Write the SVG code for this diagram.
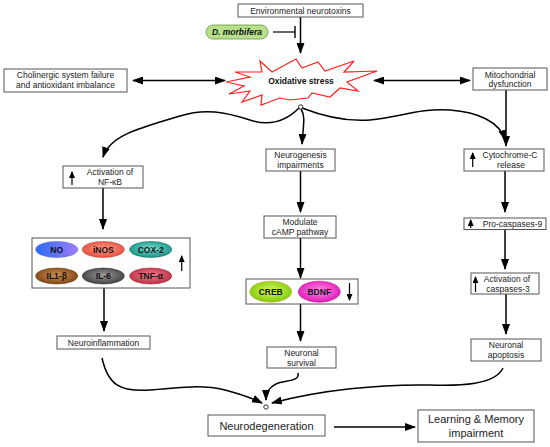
<svg xmlns="http://www.w3.org/2000/svg" width="550" height="447" viewBox="0 0 550 447">
<defs>
<style>
.box{fill:#fff;stroke:#555;stroke-width:1}
.t{font-family:"Liberation Sans",Arial,sans-serif;font-size:8.5px;fill:#222;text-anchor:middle}
.tl{font-family:"Liberation Sans",Arial,sans-serif;font-size:11px;fill:#222;text-anchor:middle}
.b{font-family:"Liberation Sans",Arial,sans-serif;font-size:8.5px;font-weight:bold;fill:#111;text-anchor:middle}
.c{fill:none;stroke:#000;stroke-width:1.5}
.ar{marker-end:url(#ah)}
.up{stroke:#000;stroke-width:1.2;fill:none}
.el{stroke-width:0.6}
</style>
<marker id="ah" markerUnits="userSpaceOnUse" markerWidth="11" markerHeight="8" refX="10" refY="4" orient="auto-start-reverse">
<path d="M0,0 L11,4 L0,8 Z" fill="#000"/>
</marker>
<marker id="sa" markerUnits="userSpaceOnUse" markerWidth="7" markerHeight="6" refX="6" refY="3" orient="auto">
<path d="M0,0 L7,3 L0,6 Z" fill="#000"/>
</marker>
<linearGradient id="gNO" x1="0" x2="1" y1="0" y2="0"><stop offset="0" stop-color="#2a6cf2"/><stop offset="1" stop-color="#a07cff"/></linearGradient>
<radialGradient id="gINOS" cx="0.5" cy="0.45" r="0.6"><stop offset="0" stop-color="#ff9a88"/><stop offset="1" stop-color="#e24a3a"/></radialGradient>
<radialGradient id="gCOX" cx="0.5" cy="0.45" r="0.6"><stop offset="0" stop-color="#7ae0d2"/><stop offset="1" stop-color="#0f8d80"/></radialGradient>
<radialGradient id="gIL1" cx="0.5" cy="0.45" r="0.6"><stop offset="0" stop-color="#d09050"/><stop offset="1" stop-color="#7a4212"/></radialGradient>
<radialGradient id="gIL6" cx="0.5" cy="0.45" r="0.6"><stop offset="0" stop-color="#9a9a9a"/><stop offset="1" stop-color="#3a3a3a"/></radialGradient>
<radialGradient id="gTNF" cx="0.5" cy="0.45" r="0.6"><stop offset="0" stop-color="#f08090"/><stop offset="1" stop-color="#b82a3c"/></radialGradient>
<radialGradient id="gCREB" cx="0.5" cy="0.45" r="0.6"><stop offset="0" stop-color="#d8f860"/><stop offset="1" stop-color="#78c800"/></radialGradient>
<radialGradient id="gBDNF" cx="0.5" cy="0.45" r="0.6"><stop offset="0" stop-color="#ff8ae8"/><stop offset="1" stop-color="#e010b4"/></radialGradient>
</defs>
<rect width="550" height="447" fill="#fff"/>

<g id="connectors">
<line class="c ar" x1="300.5" y1="17" x2="300.5" y2="53"/>
<line x1="273" y1="32" x2="295" y2="32" stroke="#000" stroke-width="1.2"/>
<line x1="295" y1="26" x2="295" y2="38" stroke="#000" stroke-width="1.4"/>
<line class="c" x1="133" y1="80.5" x2="225" y2="80.5" marker-start="url(#ah)" marker-end="url(#ah)"/>
<line class="c" x1="374" y1="80.5" x2="470" y2="80.5" marker-start="url(#ah)" marker-end="url(#ah)"/>
<line class="c ar" x1="506" y1="90" x2="506" y2="146"/>
<path class="c ar" d="M299,108 C285,122 268,126 250,120 C225,112 205,108 180,116 C140,128 110,135 103,157"/>
<path class="c ar" d="M302,108 C320,115 345,122 370,120 C400,117 420,108 450,110 C478,112 500,122 505,140"/>
<path class="c ar" d="M301,109 C306,117 303,126 302,144"/>
<line class="c ar" x1="103" y1="188" x2="103" y2="229"/>
<line class="c ar" x1="104" y1="288" x2="104" y2="331"/>
<line class="c ar" x1="300.5" y1="171" x2="300.5" y2="212"/>
<line class="c ar" x1="300.5" y1="238" x2="300.5" y2="278"/>
<line class="c ar" x1="300.5" y1="304" x2="300.5" y2="341"/>
<line class="c ar" x1="505" y1="171" x2="505" y2="212"/>
<line class="c ar" x1="505" y1="229" x2="505" y2="269"/>
<line class="c ar" x1="506" y1="294" x2="506" y2="334"/>
<path class="c ar" d="M102,358 C108,385 120,392 150,390 C180,388 200,384 225,390 C240,394 252,398 262,403"/>
<path class="c ar" d="M298,373 C300,382 285,380 276,384 C268,388 266,393 266,400"/>
<path class="c ar" d="M503,368 C495,385 460,386 430,385 C380,384 320,390 272,403"/>
<line class="c ar" x1="334" y1="427" x2="415" y2="427"/>
<circle cx="300.7" cy="107" r="2.2" fill="#fff" stroke="#000" stroke-width="0.8"/>
<circle cx="266" cy="407" r="2.2" fill="#fff" stroke="#000" stroke-width="0.8"/>
</g>

<g id="env">
<rect class="box" x="238" y="4" width="125" height="13"/>
<text class="t" x="300.5" y="13.5">Environmental neurotoxins</text>
</g>
<g id="dmorbifera">
<rect x="206" y="25" width="62" height="14" rx="7" fill="#b8e08c" stroke="#6a9a40" stroke-width="0.8"/>
<text class="b" x="237" y="35" font-size="8px" font-style="italic">D. morbifera</text>
</g>
<g id="oxidative">
<path d="M260,61 L272,72 L296,59 L302,68 L318,62 L325,71 L354,61 L344,72 L377,71 L347,82 L358,91 L340,88 L330,97 L312,93 L308,98 L290,100 L280,98 L261,105 L262,95 L242,102 L250,91 L229,94 L244,86 L226,82 L250,77 L235,72 L262,72 Z" fill="#fff" stroke="#ff2020" stroke-width="1.2"/>
<text class="b" x="301" y="83.5" font-size="9.5px">Oxidative stress</text>
</g>
<g id="cholinergic">
<rect class="box" x="4" y="69" width="123" height="23"/>
<text class="t" x="65.5" y="78">Cholinergic system failure</text>
<text class="t" x="65.5" y="88">and antioxidant imbalance</text>
</g>
<g id="mito">
<rect class="box" x="473" y="68" width="74" height="22"/>
<text class="t" x="510" y="77.5">Mitochondrial</text>
<text class="t" x="510" y="87">dysfunction</text>
</g>
<g id="nfkb">
<rect class="box" x="63" y="166" width="80" height="22"/>
<line class="up" x1="72" y1="185" x2="72" y2="172" marker-end="url(#sa)"/>
<text class="t" x="110" y="175">Activation of</text>
<text class="t" x="110" y="185">NF-κB</text>
</g>
<g id="cytokines">
<rect class="box" x="32" y="238" width="158" height="50"/>
<ellipse class="el" cx="56.7" cy="249.5" rx="21" ry="8" fill="url(#gNO)" stroke="#5a6ae0"/>
<ellipse class="el" cx="103.3" cy="249.5" rx="21" ry="8" fill="url(#gINOS)" stroke="#c04030"/>
<ellipse class="el" cx="150.7" cy="249.5" rx="21" ry="8" fill="url(#gCOX)" stroke="#0a7068"/>
<ellipse class="el" cx="56.7" cy="276" rx="21" ry="8" fill="url(#gIL1)" stroke="#6a3810"/>
<ellipse class="el" cx="103.3" cy="276" rx="21" ry="8" fill="url(#gIL6)" stroke="#333"/>
<ellipse class="el" cx="150.7" cy="276" rx="21" ry="8" fill="url(#gTNF)" stroke="#a02030"/>
<text class="b" x="56.7" y="252.7">NO</text>
<text class="b" x="103.3" y="252.7">iNOS</text>
<text class="b" x="150.7" y="252.7">COX-2</text>
<text class="b" x="56.7" y="279.2">IL1-β</text>
<text class="b" x="103.3" y="279.2">IL-6</text>
<text class="b" x="150.7" y="279.2">TNF-α</text>
<line class="up" x1="181.7" y1="271" x2="181.7" y2="256" marker-end="url(#sa)"/>
</g>
<g id="neuroinflammation">
<rect class="box" x="57" y="336" width="93" height="13"/>
<text class="t" x="103.5" y="345.5">Neuroinflammation</text>
</g>
<g id="neurogenesis">
<rect class="box" x="266" y="149" width="69" height="22"/>
<text class="t" x="300.5" y="158">Neurogenesis</text>
<text class="t" x="300.5" y="168">impairments</text>
</g>
<g id="camp">
<rect class="box" x="264" y="216" width="72" height="22"/>
<text class="t" x="300" y="225">Modulate</text>
<text class="t" x="300" y="235">cAMP pathway</text>
</g>
<g id="crebbdnf">
<rect class="box" x="246" y="279" width="112" height="25"/>
<ellipse class="el" cx="270.7" cy="291.7" rx="21" ry="10.5" fill="url(#gCREB)" stroke="#d0a040"/>
<ellipse class="el" cx="319.3" cy="291.7" rx="21" ry="10.5" fill="url(#gBDNF)" stroke="#c0109a"/>
<text class="b" x="270.7" y="295" font-size="9px">CREB</text>
<text class="b" x="319.3" y="295" font-size="9px">BDNF</text>
<line class="up" x1="349.5" y1="283" x2="349.5" y2="300" marker-end="url(#sa)"/>
</g>
<g id="survival">
<rect class="box" x="267" y="347" width="69" height="21"/>
<text class="t" x="301.5" y="356">Neuronal</text>
<text class="t" x="301.5" y="366">survival</text>
</g>
<g id="cytochrome">
<rect class="box" x="464" y="149" width="80" height="22"/>
<line class="up" x1="472.7" y1="167" x2="472.7" y2="153" marker-end="url(#sa)"/>
<text class="t" x="510" y="158">Cytochrome-C</text>
<text class="t" x="511" y="168">release</text>
</g>
<g id="procasp9">
<rect class="box" x="464" y="218" width="82" height="11.5"/>
<line class="up" x1="470.7" y1="228" x2="470.7" y2="220" marker-end="url(#sa)"/>
<text class="t" x="512.5" y="227">Pro-caspases-9</text>
</g>
<g id="casp3">
<rect class="box" x="471" y="273" width="68" height="21"/>
<line class="up" x1="475.5" y1="292" x2="475.5" y2="277" marker-end="url(#sa)"/>
<text class="t" x="507" y="282">Activation of</text>
<text class="t" x="508" y="292">caspases-3</text>
</g>
<g id="apoptosis">
<rect class="box" x="471" y="339" width="70" height="22"/>
<text class="t" x="506" y="348">Neuronal</text>
<text class="t" x="506" y="358">apoptosis</text>
</g>
<g id="neurodegeneration">
<rect class="box" x="208" y="415" width="117" height="21"/>
<text class="tl" x="266.5" y="429.5">Neurodegeneration</text>
</g>
<g id="learning">
<rect class="box" x="418" y="410" width="116" height="32"/>
<text class="tl" x="476" y="423">Learning &amp; Memory</text>
<text class="tl" x="476" y="437">impairment</text>
</g>
</svg>
